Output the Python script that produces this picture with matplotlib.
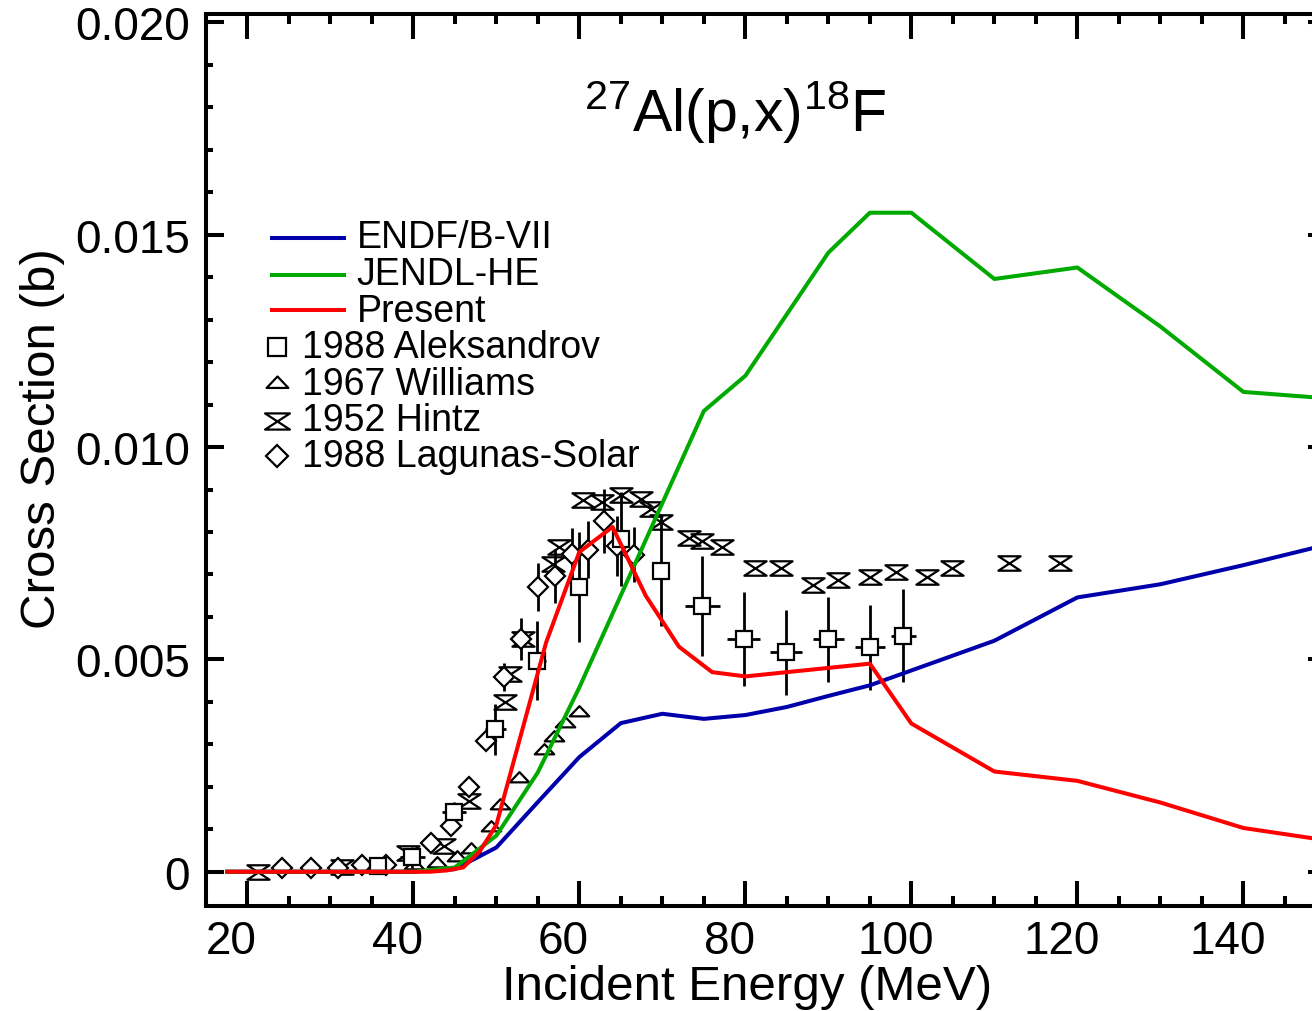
import numpy as np
import matplotlib.pyplot as plt
from matplotlib.path import Path
from matplotlib.ticker import MultipleLocator, FuncFormatter
from matplotlib.transforms import ScaledTranslation

plt.rcParams['font.family'] = ['Liberation Sans', 'DejaVu Sans']
plt.rcParams['mathtext.fontset'] = 'custom'
plt.rcParams['mathtext.rm'] = 'Liberation Sans'
plt.rcParams['mathtext.default'] = 'regular'

# evaluated curves (MeV, barn)
endf_e = [17.6, 40, 45, 50, 55, 60, 65, 70, 75, 80, 85, 90, 95, 100, 110, 120, 130, 140, 150]
endf = [0, 0, 0.00006, 0.00057, 0.00164, 0.0027, 0.0035, 0.00372, 0.0036, 0.00369,
        0.00388, 0.00414, 0.00439, 0.00474, 0.00544, 0.00646, 0.00677, 0.00722, 0.0077]

jendl_e = [17.6, 40, 45, 50, 55, 60, 65, 70, 75, 80, 85, 90, 95, 100, 110, 120, 130, 140, 150]
jendl = [0, 0, 0.0001, 0.00085, 0.00234, 0.00434, 0.00651, 0.00868, 0.01085, 0.01168,
         0.01313, 0.01458, 0.01552, 0.01552, 0.01396, 0.01423, 0.01284, 0.0113, 0.01115]

present_e = [17.6, 42, 44, 46, 48, 50, 56, 60, 64, 68, 72, 76, 80, 95, 100, 110, 120, 130, 140, 150]
present = [0, 0, 0.00003, 0.0001, 0.00048, 0.0011, 0.0054, 0.00753, 0.00812, 0.0065, 0.0053,
           0.0047, 0.0046, 0.0049, 0.00349, 0.00236, 0.00214, 0.00163, 0.00103, 0.00074]

# experimental data
alek_e = [35.8, 39.9, 44.9, 49.9, 54.9, 59.9, 65.0, 69.8, 74.8, 79.8, 84.9, 90.0, 95.0, 99.0]
alek = [0.00014, 0.00034, 0.0014, 0.00336, 0.00497, 0.0067, 0.00784, 0.00709, 0.00625,
        0.00548, 0.00517, 0.00548, 0.00529, 0.00556]
alek_dy = [0.0, 0.00025, 0.00025, 0.0006, 0.00093, 0.0013, 0.0011, 0.0013, 0.00118,
           0.0011, 0.001, 0.001, 0.001, 0.0011]
alek_dx = [1.3, 1.5, 1.45, 1.3, 1.1, 0.9, 0.9, 0.9, 2.1, 2.0, 1.9, 1.85, 1.8, 1.5]

will_e = [40.1, 42.9, 45.3, 46.9, 49.3, 50.5, 52.7, 55.7, 56.9, 58.3, 59.9]
will = [0.00018, 0.00024, 0.00038, 0.00057, 0.00108, 0.0016, 0.00222, 0.00289, 0.0032,
        0.00352, 0.00379]

hintz_e = [21.3, 31.4, 39.4, 43.7, 46.7, 51.0, 51.7, 53.2, 56.8, 57.5, 60.5, 62.7, 65.0,
           67.4, 68.6, 69.8, 73.2, 74.8, 77.2, 81.2, 84.3, 88.2, 91.2, 95.0, 98.2, 101.9,
           104.9, 111.8, 117.9]
hintz = [0.0, 0.0001, 0.00044, 0.0006, 0.00167, 0.004, 0.00466, 0.00548, 0.00725, 0.00764,
         0.00876, 0.0087, 0.00888, 0.00877, 0.00855, 0.00823, 0.00786, 0.00778, 0.00764,
         0.00715, 0.00715, 0.00675, 0.00688, 0.00695, 0.00707, 0.00695, 0.00715, 0.00727,
         0.00727]

lag_e = [24.2, 27.7, 30.9, 33.8, 36.7, 42.1, 44.5, 46.7, 48.7, 50.9, 53.0, 55.0, 57.1,
         59.1, 61.1, 63.0, 64.5, 66.6]
lag = [0.00009, 0.00009, 0.00009, 0.00017, 0.00017, 0.00068, 0.00108, 0.00199, 0.00309,
       0.00458, 0.00548, 0.0067, 0.00696, 0.00749, 0.00758, 0.00826, 0.00767, 0.00747]
lag_dy = [0, 0, 0, 0, 0, 0, 0, 0, 0, 0.00033, 0.0005, 0.00057, 0.00063, 0.0006, 0.00067,
          0.00075, 0.0007, 0.00065]

BLUE, GREEN, RED = '#0000aa', '#00aa00', '#ff0000'

# marker shapes
hourglass = Path([(-1, 0.65), (1, 0.65), (-1, -0.65), (1, -0.65), (-1, 0.65)],
                 [Path.MOVETO, Path.LINETO, Path.LINETO, Path.LINETO, Path.CLOSEPOLY])
triangle = Path([(-1, -0.5), (1, -0.5), (0, 0.55), (-1, -0.5)],
                [Path.MOVETO, Path.LINETO, Path.LINETO, Path.CLOSEPOLY])

sq_kw = dict(marker='s', ms=12.2, mfc='white', mec='k', mew=1.6)
tri_kw = dict(marker=triangle, ms=14, mfc='none', mec='k', mew=1.6)
hg_kw = dict(marker=hourglass, ms=16, mfc='none', mec='k', mew=1.6)
dia_kw = dict(marker='D', ms=10.2, mfc='white', mec='k', mew=1.6)

W, H = 1312, 1012
AX_L, AX_R, AX_T, AX_B = 205.8, 1326.4, 15.0, 906.7
fig = plt.figure(figsize=(W / 100, H / 100), dpi=100)
ax = fig.add_axes([AX_L / W, 1 - AX_B / H, (AX_R - AX_L) / W, (AX_B - AX_T) / H])


def ax_xy(px, py):
    return (px - AX_L) / (AX_R - AX_L), (AX_B - py) / (AX_B - AX_T)


# error bars then symbols
ax.errorbar(alek_e, alek, yerr=alek_dy, xerr=alek_dx, fmt='none', ecolor='k',
            elinewidth=2, capsize=0, zorder=2)
ax.errorbar(lag_e, lag, yerr=lag_dy, fmt='none', ecolor='k', elinewidth=2, capsize=0,
            zorder=2)
ax.plot(will_e, will, ls='none', zorder=3, **tri_kw)
ax.plot(hintz_e, hintz, ls='none', zorder=3, **hg_kw)
ax.plot(lag_e, lag, ls='none', zorder=3, **dia_kw)
ax.plot(alek_e, alek, ls='none', zorder=3, **sq_kw)

# curves on top
ax.plot(endf_e, endf, color=BLUE, lw=2.9, zorder=5)
ax.plot(jendl_e, jendl, color=GREEN, lw=2.9, zorder=5)
ax.plot(present_e, present, color=RED, lw=2.9, zorder=5)

ax.set_xlim(15, 150)
ax.set_ylim(-0.0008, 0.0202)
ax.xaxis.set_major_locator(MultipleLocator(20))
ax.xaxis.set_minor_locator(MultipleLocator(5))
ax.yaxis.set_major_locator(MultipleLocator(0.005))
ax.yaxis.set_minor_locator(MultipleLocator(0.001))
ax.yaxis.set_major_formatter(FuncFormatter(lambda v, p: '0' if abs(v) < 1e-9 else f'{v:.3f}'))

ax.tick_params(which='both', direction='in', top=True, right=True, width=2.9, colors='k')
ax.tick_params(axis='x', which='major', length=18, pad=9.4, labelsize=33)
ax.tick_params(axis='x', which='minor', length=7.2)
ax.tick_params(axis='y', which='major', length=13, pad=11.5, labelsize=33)
ax.tick_params(axis='y', which='minor', length=5)
for s in ax.spines.values():
    s.set_linewidth(2.9)

shift = ScaledTranslation(-16 / 100, 0, fig.dpi_scale_trans)
for lab in ax.get_xticklabels():
    lab.set_transform(lab.get_transform() + shift)

ax.set_xlabel('Incident Energy (MeV)', fontsize=35.5)
ax.xaxis.set_label_coords(*ax_xy(747, 965))
ax.set_ylabel('Cross Section (b)', fontsize=35.5)
ax.yaxis.set_label_coords(ax_xy(65, 0)[0], ax_xy(0, 439)[1])

# title inside the frame
tx, ty = ax_xy(735, 131.7)
ax.text(tx, ty, r'$^{27}$Al(p,x)$^{18}$F', transform=ax.transAxes, fontsize=42.5,
        ha='center', va='baseline')

# legend, drawn by hand
line_rows = [('ENDF/B-VII', BLUE, 239, 248.3), ('JENDL-HE', GREEN, 275.7, 285),
             ('Present', RED, 311, 321.7)]
for name, col, yl, yb in line_rows:
    x0, y0 = ax_xy(271.7, yl)
    x1, _ = ax_xy(344, yl)
    ax.plot([x0, x1], [y0, y0], color=col, lw=2.9, transform=ax.transAxes, clip_on=False)
    tx, ty = ax_xy(356.7, yb)
    ax.text(tx, ty, name, transform=ax.transAxes, fontsize=27, va='baseline')

sym_rows = [('1988 Aleksandrov', sq_kw, 348.3, 358.3), ('1967 Williams', tri_kw, 383, 395),
            ('1952 Hintz', hg_kw, 421.7, 430.7), ('1988 Lagunas-Solar', dia_kw, 456.7, 466.7)]
for name, kw, ym, yb in sym_rows:
    mx, my = ax_xy(277, ym)
    ax.plot([mx], [my], transform=ax.transAxes, clip_on=False, ls='none',
            **dict(kw, mfc='none', ms=kw['ms'] * 1.12))
    tx, ty = ax_xy(301.7, yb)
    ax.text(tx, ty, name, transform=ax.transAxes, fontsize=27, va='baseline')

fig.savefig('out.png', dpi=100)
